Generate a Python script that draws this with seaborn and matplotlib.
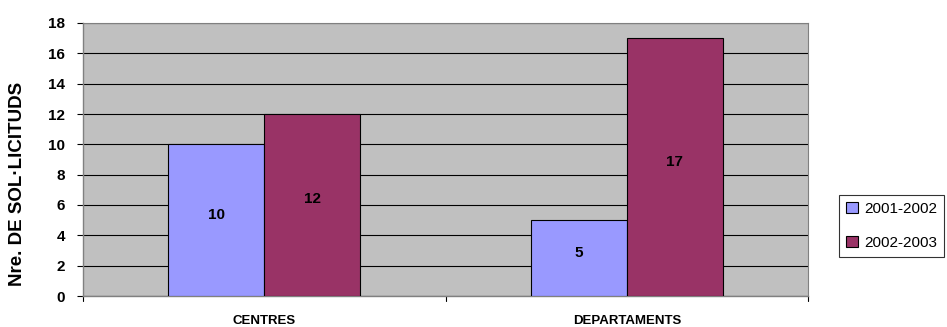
import matplotlib
matplotlib.use("Agg")
import matplotlib.pyplot as plt
import seaborn as sns
import pandas as pd

categories = ["CENTRES", "DEPARTAMENTS"]
series_names = ["2001-2002", "2002-2003"]
values_2001 = [10, 5]
values_2002 = [12, 17]
yticks = [0, 2, 4, 6, 8, 10, 12, 14, 16, 18]

df = pd.DataFrame({
    "cat": categories * 2,
    "serie": [series_names[0]] * 2 + [series_names[1]] * 2,
    "val": values_2001 + values_2002,
})

sns.set_theme(style="white")
plt.rcParams['font.family'] = ['Liberation Sans', 'DejaVu Sans']
plt.rcParams['text.color'] = 'black'
plt.rcParams['axes.labelcolor'] = 'black'
plt.rcParams['xtick.color'] = 'black'
plt.rcParams['ytick.color'] = 'black'

fig = plt.figure(figsize=(9.47, 3.27), dpi=100)
ax = fig.add_axes([83/947, 1 - 296/327, (808-83)/947, (296-23)/327])
ax.set_facecolor("#C0C0C0")

palette = {series_names[0]: "#9999FF", series_names[1]: "#993366"}
sns.barplot(data=df, x="cat", y="val", hue="serie", palette=palette,
            width=0.53, edgecolor="black", linewidth=0.8, saturation=1,
            ax=ax, legend=True, zorder=3)

ax.set_ylim(0, 18)
ax.set_xlim(-0.5, 1.5)
ax.set_yticks(yticks)
ax.set_yticklabels([str(t) for t in yticks], fontsize=11, fontweight="bold")
ax.yaxis.grid(True, color="black", linewidth=0.8, zorder=1)
ax.set_axisbelow(True)
ax.tick_params(axis="y", length=4, width=0.8, color="black", pad=9, left=True)
ax.set_xticks([0, 1])
ax.set_xticklabels(categories, fontsize=9.5, fontweight="bold")
ax.tick_params(axis="x", length=0, pad=14)
# category boundary ticks
for xb in [-0.5, 0.5, 1.5]:
    ax.plot([xb, xb], [0, -0.35], color="black", linewidth=0.8, clip_on=False)
ax.set_xlabel("")
ax.set_ylabel("Nre. DE SOL·LICITUDS", fontsize=13.5, fontweight="bold", color="black")
ax.yaxis.set_label_coords(-0.079, 0.41)

for sp in ["top", "right"]:
    ax.spines[sp].set_visible(True)
    ax.spines[sp].set_color("#808080")
    ax.spines[sp].set_linewidth(0.8)
for sp in ["left", "bottom"]:
    ax.spines[sp].set_color("#808080")
    ax.spines[sp].set_linewidth(1.0)

for cont in ax.containers:
    ax.bar_label(cont, label_type="center", fontsize=11, fontweight="bold",
                 padding=4, color="black")

leg = ax.legend(loc="upper left", bbox_to_anchor=(831/947, 1 - 187/327),
                bbox_transform=fig.transFigure, frameon=True, fancybox=False,
                edgecolor="black", fontsize=11, handlelength=0.8, handleheight=0.8,
                labelspacing=1.3, borderpad=0.45, handletextpad=0.4,
                labelcolor="black")
leg.get_frame().set_linewidth(0.8)

fig.savefig("out.png", dpi=100)
